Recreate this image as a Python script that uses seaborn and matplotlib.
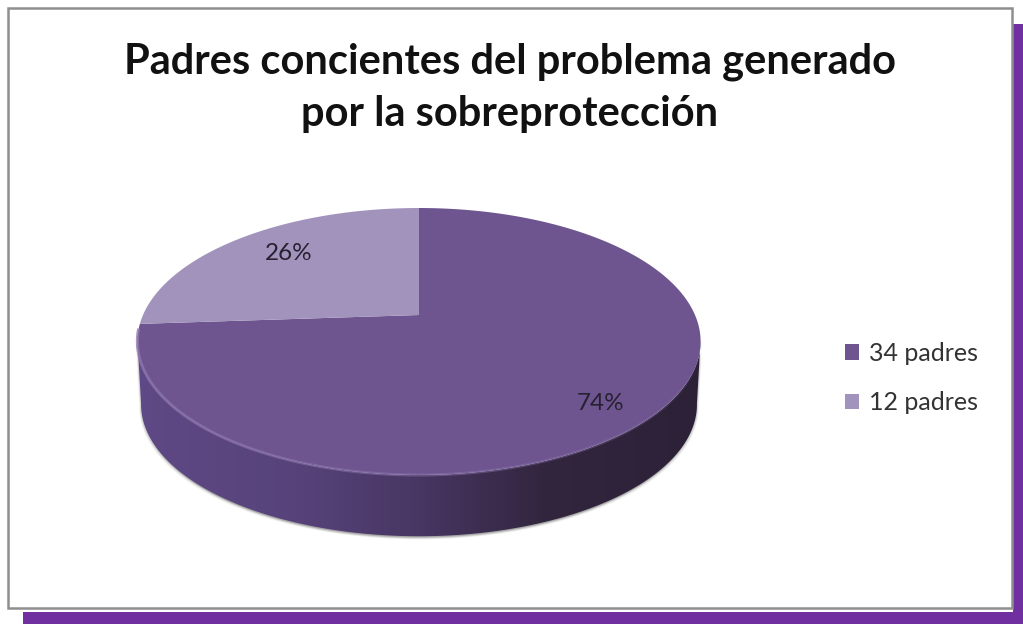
import numpy as np
import matplotlib
matplotlib.use("Agg")
import matplotlib.pyplot as plt
import seaborn as sns
from matplotlib.path import Path
from matplotlib.transforms import Transform, Affine2D
from matplotlib.patches import Rectangle, Polygon
from matplotlib.collections import LineCollection
from matplotlib.colors import LinearSegmentedColormap, to_rgb

# ---- data ----
TITLE = "Padres concientes del problema generado\npor la sobreprotección"
categories = ["34 padres", "12 padres"]
values = [34, 12]
pie_colors = ["#6E5590", "#A293BC"]

sns.set_theme(style="white")
plt.rcParams["font.family"] = ["Lato", "DejaVu Sans"]

W, H = 1023, 624
PURPLE = "#7030A0"
GREY = "#8E8E8E"


class Perspective(Transform):
    """Tilted-disc projection from the unit pie circle to picture pixels."""
    input_dims = output_dims = 2
    has_inverse = False
    is_separable = False

    def __init__(self, dy=0.0, scale=1.0):
        super().__init__()
        self.dy, self.scale = dy, scale

    def transform_non_affine(self, pts):
        pts = np.asarray(pts, float)
        u, v = pts[:, 0], pts[:, 1]
        w = 1 + 0.1985 * v
        x = 276 * u / w
        y = (315 - 65.7 * v) / w
        return np.column_stack([419 + self.scale * x,
                                341.5 + self.scale * (y - 341.5) + self.dy])

    def transform_path_non_affine(self, path):
        # flatten the wedge's curves first so the projection stays smooth
        big = path.transformed(Affine2D().scale(2000))
        poly = big.to_polygons(closed_only=False)[0] / 2000
        return Path(self.transform_non_affine(poly))


fig = plt.figure(figsize=(W / 100, H / 100), dpi=100, facecolor="white")
ax = fig.add_axes([0, 0, 1, 1])

wedges, _, autotexts = ax.pie(
    values, colors=pie_colors, startangle=90, counterclock=False,
    autopct="%1.0f%%", textprops={"fontsize": 17.5, "color": "#262130"},
    wedgeprops={"linewidth": 0},
)
ax.set_aspect("auto")
ax.axis("off")

persp = Perspective()
for w in wedges:
    w.set_transform(persp + ax.transData)
    w.set_zorder(3)

# percentage labels
autotexts[0].set_position((601, 403))
autotexts[1].set_position((289, 254))
for t in autotexts:
    t.set_ha("center")
    t.set_va("center")
    t.set_zorder(6)

# panel, purple drop shadow, grey frame
ax.add_patch(Rectangle((1013, 24), 10, 600, fc=PURPLE, ec="none", zorder=0))
ax.add_patch(Rectangle((23, 612), 1000, 12, fc=PURPLE, ec="none", zorder=0))
ax.add_patch(Rectangle((8, 8), 1004, 600, fc="white", ec=GREY, lw=1.8, zorder=0.5))

# extruded side of the disc with left-to-right shading
th = np.radians(np.linspace(191, 349, 240))
circle = np.column_stack([np.cos(th), np.sin(th)])
top_edge = Perspective().transform_non_affine(circle)
low_edge = Perspective(dy=63, scale=0.987).transform_non_affine(circle)
outline = np.vstack([top_edge, low_edge[::-1]])

for off, alpha in [(5, 0.05), (3.5, 0.08), (2, 0.12)]:
    ax.add_patch(Polygon(outline + [-off * 0.35, off * 0.6], closed=True,
                         fc="#303030", ec="none", alpha=alpha, zorder=1))
    ax.add_patch(Polygon(outline + [off * 0.35, off * 0.6], closed=True,
                         fc="#303030", ec="none", alpha=alpha, zorder=1))

cmap = LinearSegmentedColormap.from_list(
    "side", [(0, "#5F4986"), (0.28, "#57437A"), (0.5, "#483663"),
             (0.72, "#32263F"), (1, "#2C2137")])
img = ax.imshow(np.linspace(0, 1, 256)[None, :], cmap=cmap, aspect="auto",
                extent=(137, 701, 545, 330), zorder=2)
clip = Polygon(outline, closed=True, transform=ax.transData, fc="none", ec="none")
ax.add_patch(clip)
img.set_clip_path(clip)

# bevel highlight on the rim of the top face
th2 = np.radians(np.linspace(186, 340, 200))
rim = Perspective().transform_non_affine(np.column_stack([np.cos(th2), np.sin(th2)]))
segs = np.stack([rim[:-1], rim[1:]], axis=1)
fade = np.clip(1 - (np.degrees(th2[:-1]) - 186) / 154, 0, 1) ** 0.7
base = np.array(to_rgb("#8D76AC"))
rgba = np.column_stack([np.tile(base, (len(fade), 1)), 0.85 * fade])
ax.add_collection(LineCollection(segs, colors=rgba, linewidths=2.2, zorder=4))

ax.set_xlim(0, W)
ax.set_ylim(H, 0)

ax.text(510, 88, TITLE, ha="center", va="center", fontsize=30, fontweight="bold",
        color="#111111", linespacing=1.44, zorder=6)

leg = ax.legend(wedges, categories, loc="center left",
                bbox_to_anchor=(845, 378), bbox_transform=ax.transData,
                frameon=False, fontsize=18, handlelength=0.56, handleheight=0.56,
                handletextpad=0.4, labelspacing=1.06, borderpad=0, borderaxespad=0,
                labelcolor="#333333")

fig.savefig("out.png", dpi=100, facecolor="white")
